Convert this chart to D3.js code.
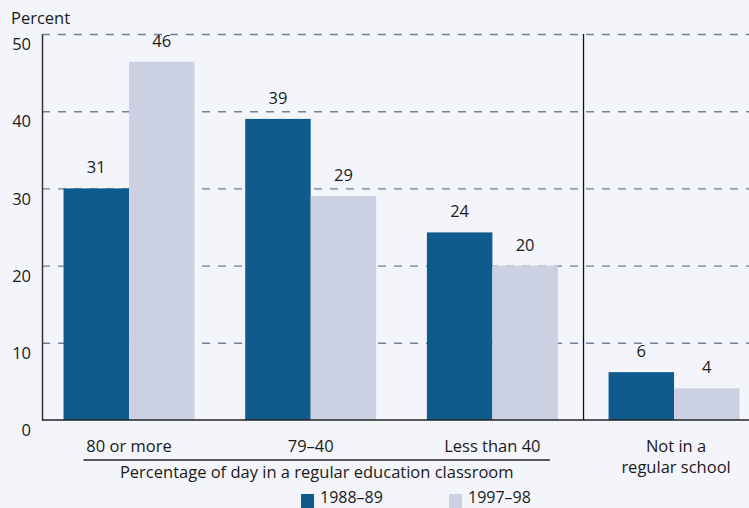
<!DOCTYPE html>
<html>
<head>
<meta charset="utf-8">
<script src="https://cdn.jsdelivr.net/npm/d3@7"></script>
<style>
  html, body { margin: 0; padding: 0; background: #f4f5fa; }
  svg { display: block; }
  text { font-family: "Open Sans", "DejaVu Sans", sans-serif; fill: #1a1a1a; }
</style>
</head>
<body>
<svg id="chart" width="749" height="508"></svg>
<script>
// ---- Data ----
const categories = ["80 or more", "79\u201340", "Less than 40", "Not in a\nregular school"];
const seriesNames = ["1988\u201389", "1997\u201398"];
const values1988 = [30, 39, 24.3, 6.2];
const values1997 = [46.4, 29, 20, 4.1];
const labels1988 = ["31", "39", "24", "6"];
const labels1997 = ["46", "29", "20", "4"];
const yTicks = [0, 10, 20, 30, 40, 50];
const yTitle = "Percent";
const groupTitle = "Percentage of day in a regular education classroom";

// ---- Layout ----
const W = 749, H = 508;
const colors = ["#0f5b8e", "#cbd1e3"];
const svg = d3.select("#chart");

const y = d3.scaleLinear().domain([0, 50]).range([420, 34]);
const x0 = d3.scaleBand().domain(categories).range([38.2, 764.9])
  .paddingInner(0.279).paddingOuter(0.1395);
const x1 = d3.scaleBand().domain(seriesNames).range([0, x0.bandwidth()]);
const color = d3.scaleOrdinal().domain(seriesNames).range(colors);

const rows = categories.map((c, i) => ({
  cat: c,
  items: [
    { s: seriesNames[0], v: values1988[i], label: labels1988[i] },
    { s: seriesNames[1], v: values1997[i], label: labels1997[i] }
  ]
}));

// gridlines
const grid = d3.axisLeft(y).tickValues(yTicks.filter(t => t > 0)).tickSize(-(W - 42)).tickFormat("");
svg.append("g").attr("transform", "translate(42,0)").call(grid)
  .call(g => g.select(".domain").remove())
  .call(g => g.selectAll("line").attr("stroke", "#6f7f99").attr("stroke-width", 1.4)
    .attr("stroke-dasharray", "8,8"));

// bars
const gGroups = svg.append("g").selectAll("g").data(rows).join("g")
  .attr("transform", d => `translate(${x0(d.cat)},0)`);
gGroups.selectAll("rect").data(d => d.items).join("rect")
  .attr("x", d => x1(d.s))
  .attr("y", d => y(d.v))
  .attr("width", x1.bandwidth())
  .attr("height", d => y(0) - y(d.v))
  .attr("fill", d => color(d.s));
gGroups.selectAll("text").data(d => d.items).join("text")
  .attr("x", d => x1(d.s) + x1.bandwidth() / 2)
  .attr("y", d => y(d.v) - 15)
  .attr("text-anchor", "middle")
  .attr("font-size", 16.5)
  .text(d => d.label);

// y axis
const yAxis = d3.axisLeft(y).tickValues(yTicks).tickSize(0).tickPadding(11);
svg.append("g").attr("transform", "translate(42,0)").call(yAxis)
  .call(g => g.select(".domain").attr("stroke", "#333").attr("stroke-width", 1.5))
  .call(g => g.selectAll("text").attr("font-size", 16.5).attr("dy", "0.95em")
    .attr("text-anchor", "end").style("font-family", "'Open Sans', sans-serif").attr("fill", "#1a1a1a"));

// baseline
svg.append("line").attr("x1", 42).attr("x2", W).attr("y1", y(0)).attr("y2", y(0))
  .attr("stroke", "#222").attr("stroke-width", 1.5);

// separator between groups 3 and 4
const sepX = (x0(categories[2]) + x0.bandwidth() + x0(categories[3])) / 2 + 0.3;
svg.append("line").attr("x1", sepX).attr("x2", sepX).attr("y1", y(50)).attr("y2", y(0))
  .attr("stroke", "#111").attr("stroke-width", 1.3);

// y title
svg.append("text").attr("x", 11).attr("y", 24).attr("font-size", 16.5).text(yTitle);

// category labels
categories.forEach((c, i) => {
  const lines = c.split("\n");
  const cx = x0(c) + x0.bandwidth() / 2 + (i === 3 ? 2 : 0);
  const t = svg.append("text").attr("x", cx)
    .attr("y", 452).attr("text-anchor", "middle").attr("font-size", 16.5);
  lines.forEach((ln, j) => t.append("tspan").attr("x", cx)
    .attr("dy", j === 0 ? 0 : 21).text(ln));
});

// group bracket line + title
const brL = x0(categories[0]) + 20, brR = x0(categories[2]) + x0.bandwidth() - 8;
svg.append("line").attr("x1", brL).attr("x2", brR).attr("y1", 460).attr("y2", 460)
  .attr("stroke", "#222").attr("stroke-width", 1.3);
svg.append("text").attr("x", (brL + brR) / 2).attr("y", 478).attr("text-anchor", "middle")
  .attr("font-size", 16.5).text(groupTitle);

// legend
const legendX = [301, 449];
seriesNames.forEach((s, i) => {
  svg.append("rect").attr("x", legendX[i]).attr("y", 494).attr("width", 13).attr("height", 14)
    .attr("fill", color(s));
  svg.append("text").attr("x", legendX[i] + 19).attr("y", 503).attr("font-size", 16).text(s);
});
</script>
</body>
</html>
